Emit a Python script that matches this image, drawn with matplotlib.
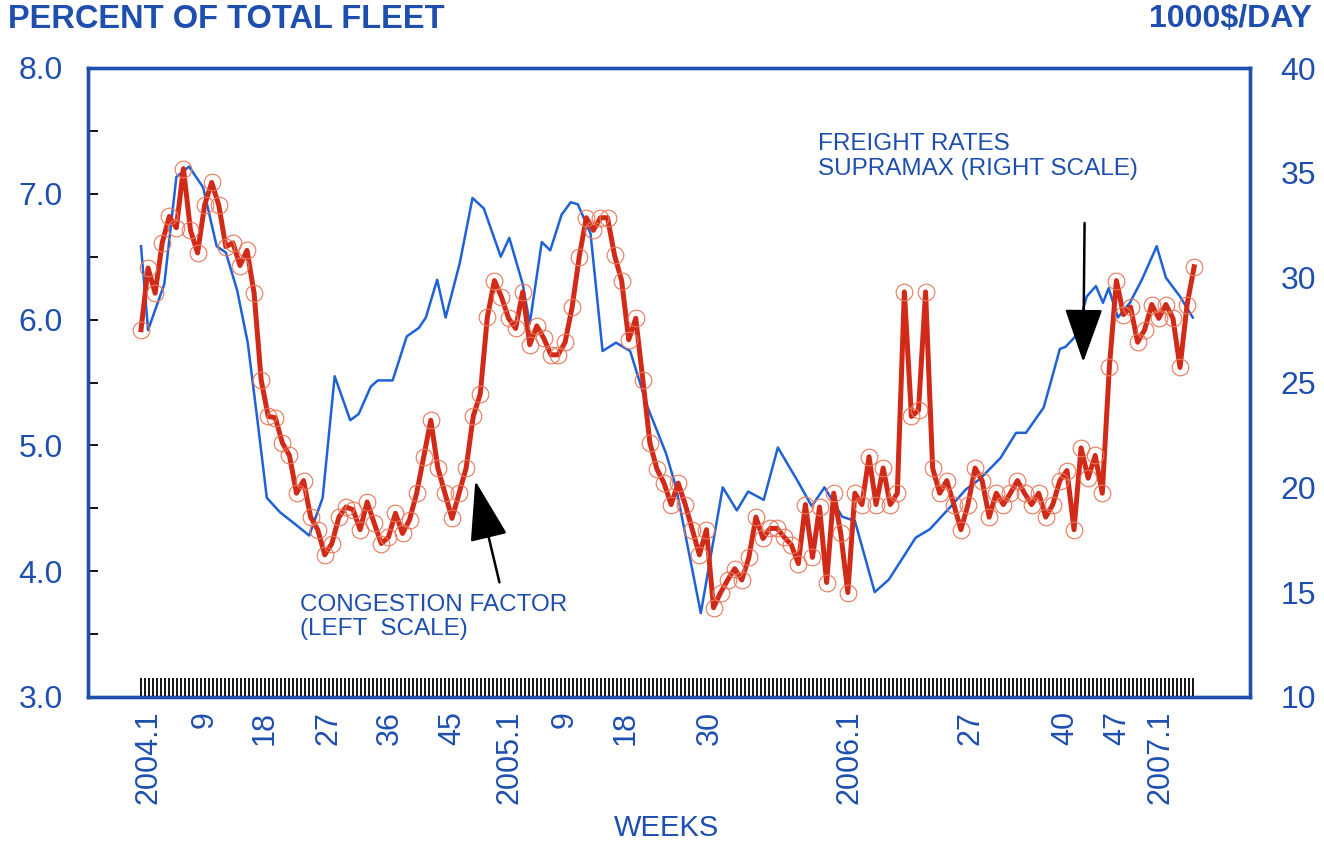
import matplotlib.pyplot as plt
import numpy as np

# weekly congestion factor (percent of total fleet), week 0 = 2004.1
congestion = [
    5.92, 6.41, 6.21, 6.61, 6.82, 6.73, 7.20, 6.71, 6.53, 6.91,
    7.09, 6.91, 6.58, 6.61, 6.43, 6.55, 6.21, 5.52, 5.23, 5.22,
    5.02, 4.92, 4.62, 4.72, 4.43, 4.33, 4.13, 4.22, 4.43, 4.51,
    4.49, 4.33, 4.55, 4.38, 4.22, 4.27, 4.46, 4.30, 4.41, 4.62,
    4.91, 5.20, 4.82, 4.62, 4.42, 4.62, 4.82, 5.23, 5.41, 6.02,
    6.31, 6.18, 6.01, 5.93, 6.22, 5.80, 5.95, 5.85, 5.72, 5.72,
    5.82, 6.10, 6.50, 6.81, 6.71, 6.81, 6.81, 6.51, 6.31, 5.84,
    6.01, 5.52, 5.02, 4.81, 4.70, 4.53, 4.70, 4.53, 4.33, 4.13,
    4.33, 3.71, 3.83, 3.93, 4.02, 3.93, 4.11, 4.43, 4.26, 4.34,
    4.34, 4.27, 4.21, 4.06, 4.53, 4.11, 4.51, 3.91, 4.62, 4.30,
    3.83, 4.62, 4.53, 4.91, 4.53, 4.82, 4.53, 4.62, 6.22, 5.23,
    5.28, 6.22, 4.82, 4.62, 4.72, 4.53, 4.33, 4.53, 4.82, 4.72,
    4.43, 4.62, 4.53, 4.62, 4.72, 4.62, 4.53, 4.62, 4.43, 4.53,
    4.72, 4.80, 4.33, 4.98, 4.74, 4.92, 4.62, 5.62, 6.31, 6.04,
    6.10, 5.82, 5.92, 6.12, 6.01, 6.12, 6.01, 5.62, 6.12, 6.42,
]

# supramax freight rates (1000$/day), read at the line's corners
rate_week = [
    0, 1.0, 3.3, 5.0, 6.8, 8.8, 10.7, 12.0, 13.6, 15.1, 16.4, 17.8,
    19.7, 21.6, 23.8, 25.7, 27.4, 29.6, 30.8, 32.5, 33.5, 35.6, 37.6,
    39.3, 40.3, 41.9, 43.1, 45.1, 46.9, 48.5, 50.9, 52.1, 54.0, 55.0,
    56.7, 57.9, 59.5, 60.8, 61.8, 63.6, 65.3, 67.2, 69.2, 71.7, 74.3,
    75.7, 79.2, 82.3, 84.3, 85.9, 88.1, 90.1, 92.9, 94.9, 96.7, 99.2,
    101.0, 103.8, 105.8, 109.6, 111.6, 114.6, 116.7, 118.7, 121.6,
    123.8, 125.2, 127.7, 128.7, 130.0, 130.8, 132.2, 133.8, 135.1,
    136.1, 136.9, 138.2, 139.9, 141.6, 143.7, 145.0, 147.0, 148.8,
]
rates = [
    31.5, 27.5, 29.7, 34.8, 35.3, 34.3, 31.5, 31.2, 29.4, 26.9, 23.4, 19.5,
    18.8, 18.3, 17.7, 19.5, 25.3, 23.2, 23.5, 24.8, 25.1, 25.1, 27.2,
    27.6, 28.1, 29.9, 28.1, 30.7, 33.8, 33.3, 31.0, 31.9, 29.7, 27.8,
    31.7, 31.3, 33.0, 33.6, 33.5, 32.1, 26.5, 26.9, 26.5, 23.8, 21.6,
    20.0, 14.0, 20.0, 18.9, 19.8, 19.4, 21.9, 20.3, 19.1, 20.0, 18.6,
    18.4, 15.0, 15.6, 17.6, 18.0, 19.1, 19.9, 20.4, 21.4,
    22.6, 22.6, 23.8, 25.0, 26.6, 26.7, 27.2, 29.1, 29.6,
    28.8, 29.5, 28.1, 28.8, 29.9, 31.5, 30.0, 29.1, 28.1,
]

week_ticks = [1.0, 9.0, 17.5, 26.5, 35.2, 44.0, 52.2, 60.0, 68.5, 80.5,
              100.3, 117.3, 130.7, 138.1, 144.2]
week_labels = ['2004.1', '9', '18', '27', '36', '45', '2005.1', '9', '18',
               '30', '2006.1', '27', '40', '47', '2007.1']

BLUE = '#1f4fae'
plt.rcParams['font.family'] = ['Liberation Sans', 'DejaVu Sans']

fig = plt.figure(figsize=(13.24, 8.42), dpi=100)
ax = fig.add_axes([88/1324, 1-697/842, (1250-88)/1324, (697-68)/842])
ax2 = ax.twinx()

weeks = np.arange(len(congestion))
ax.plot(weeks, congestion, color='#d22a18', lw=3.6, zorder=3,
        marker='o', ms=12, mfc='none', mec='#e8785a', mew=0.8)
ax2.plot(rate_week, rates, color='#1f62d6', lw=1.8, zorder=2)

ax.set_xlim(-7.5, 156.9)
ax.set_ylim(3, 8)
ax2.set_ylim(10, 40)
ax.set_zorder(ax2.get_zorder() + 1)
ax.patch.set_visible(False)

ax.set_yticks(np.arange(3, 8.01, 0.5))
ax.set_yticklabels([f'{v:.1f}' if v % 1 == 0 else ''
                    for v in np.arange(3, 8.01, 0.5)])
ax.tick_params(axis='y', direction='in', length=7, width=1.3, color='black',
               labelsize=23, labelcolor=BLUE, pad=18)
ax2.set_yticks(range(10, 41, 5))
ax2.tick_params(axis='y', length=0, labelsize=23, labelcolor=BLUE, pad=22)

ax.set_xticks(week_ticks)
ax.set_xticklabels(week_labels, rotation=90)
ax.set_xticks(np.arange(0, 149.4, 0.566), minor=True)
ax.tick_params(axis='x', which='major', length=0, labelsize=22,
               labelcolor=BLUE, pad=10)
ax.tick_params(axis='x', which='minor', direction='in', length=13.5,
               width=1.3, color='black')

for a in (ax, ax2):
    for s in a.spines.values():
        s.set_color(BLUE)
        s.set_linewidth(2.4)

fig.text(8/1324, 1-19/842, 'PERCENT OF TOTAL FLEET', fontsize=23.5,
         fontweight='bold', color=BLUE, va='center', ha='left')
fig.text(1312/1324, 1-19/842, '1000$/DAY', fontsize=23,
         fontweight='bold', color=BLUE, va='center', ha='right')
fig.text(666/1324, 1-828/842, 'WEEKS', fontsize=21, color=BLUE,
         va='center', ha='center')

ax.text(95.8, 7.48, 'FREIGHT RATES\nSUPRAMAX (RIGHT SCALE)', fontsize=17.5,
        color=BLUE, va='top', ha='left', linespacing=1.15)
ax.text(22.5, 3.82, 'CONGESTION FACTOR\n(LEFT  SCALE)', fontsize=17.5,
        color=BLUE, va='top', ha='left', linespacing=1.15)

ax.annotate('', xy=(47.2, 4.74), xytext=(50.8, 3.89),
            arrowprops=dict(arrowstyle='-|>,head_length=1.9,head_width=0.6',
                            color='black', lw=1.8, mutation_scale=20))
ax.annotate('', xy=(133.3, 5.64), xytext=(133.5, 6.79),
            arrowprops=dict(arrowstyle='-|>,head_length=1.7,head_width=0.6',
                            color='black', lw=1.8, mutation_scale=20))

fig.savefig('out.png', dpi=100)
